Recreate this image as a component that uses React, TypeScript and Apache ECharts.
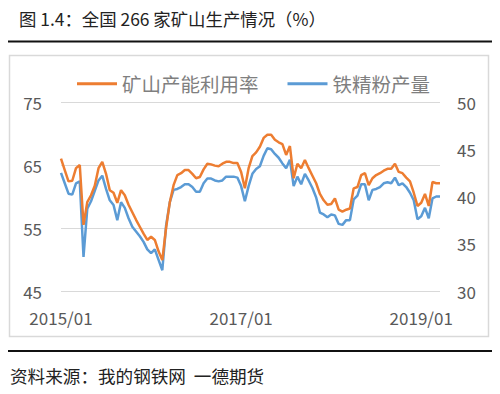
import React, { useEffect, useRef } from "react";
import * as echarts from "echarts";

// Semi-monthly periods, 2015/01 .. 2019/03
const START_YEAR = 2015;
const N_POINTS = 102;
const categories: string[] = [];
for (let i = 0; i < N_POINTS; i++) {
  const y = START_YEAR + Math.floor(i / 24);
  const m = Math.floor((i % 24) / 2) + 1;
  const mm = m < 10 ? "0" + m : "" + m;
  categories.push(i % 2 === 0 ? `${y}/${mm}` : `${y}/${mm}/16`);
}

// 矿山产能利用率 (left axis, %)
const capacityUtil = [
  66.0, 64.2, 62.4, 62.5, 64.5, 65.0, 55.5, 59.1, 60.2, 61.7,
  64.5, 65.5, 63.6, 61.0, 60.6, 59.0, 61.0, 60.2, 58.7, 57.5,
  56.3, 55.2, 54.1, 53.1, 53.6, 53.1, 51.3, 49.9, 55.0, 59.1,
  61.8, 63.4, 63.7, 64.2, 64.2, 63.6, 62.9, 63.1, 64.3, 65.2,
  65.1, 64.9, 64.8, 65.2, 65.5, 65.5, 65.3, 65.3, 63.9, 61.3,
  64.5, 66.4, 67.0, 67.9, 69.3, 69.8, 69.8, 69.0, 68.6, 68.3,
  66.6, 68.0, 62.9, 65.2, 64.5, 65.8, 64.5, 63.3, 62.1, 60.4,
  59.4, 58.7, 58.8, 59.7, 57.9, 57.6, 57.9, 58.1, 61.3, 61.5,
  63.4, 63.7, 61.8, 62.9, 63.4, 63.7, 64.1, 64.4, 64.4, 65.2,
  63.9, 63.7, 63.0, 62.4, 60.6, 58.5, 59.0, 60.4, 58.5, 62.3,
  62.1, 62.1,
];

// 铁精粉产量 (right axis)
const concentrateOutput = [
  42.5, 41.4, 40.3, 40.2, 41.4, 41.6, 33.6, 38.7, 39.5, 40.6,
  41.7, 42.2, 40.8, 39.6, 39.1, 37.5, 39.4, 38.8, 37.7, 36.8,
  36.3, 35.8, 35.2, 34.4, 34.0, 34.4, 33.3, 32.2, 36.9, 39.4,
  40.7, 40.8, 41.0, 41.3, 41.3, 41.0, 40.5, 40.5, 41.4, 41.9,
  41.9, 41.7, 41.6, 41.7, 42.1, 42.1, 42.1, 42.0, 41.1, 39.5,
  41.1, 42.4, 42.9, 43.2, 44.3, 45.1, 45.0, 44.5, 44.1, 43.5,
  43.0, 43.9, 41.1, 42.1, 41.3, 42.4, 41.7, 40.9, 39.9, 38.3,
  38.1, 37.8, 38.1, 38.0, 37.1, 37.0, 37.5, 37.5, 39.7, 40.1,
  41.3, 41.3, 39.6, 40.7, 40.8, 41.0, 41.4, 41.5, 41.4, 42.0,
  41.2, 41.4, 41.0, 40.4, 39.6, 37.6, 37.9, 38.8, 37.7, 39.8,
  40.0, 40.0,
];

const SERIES_NAMES = ["矿山产能利用率", "铁精粉产量"];
const LEFT_AXIS = { min: 45, max: 75, interval: 10 };
const RIGHT_AXIS = { min: 30, max: 50, interval: 5 };
const TITLE = "图 1.4：全国 266 家矿山生产情况（%）";
const SOURCE = "资料来源：我的钢铁网  一德期货";

const FONT = '"Noto Sans CJK SC", "Noto Sans", sans-serif';
const TEXT_GREY = "#595959";
const GRID_GREY = "#d9d9d9";

export default function App() {
  const ref = useRef<HTMLDivElement>(null);

  useEffect(() => {
    if (!ref.current) return;
    const chart = echarts.init(ref.current, null, { renderer: "svg" });
    chart.setOption({
      animation: false,
      backgroundColor: "#ffffff",
      textStyle: { fontFamily: FONT },
      grid: { left: 61, right: 60, top: 102, bottom: 103, containLabel: false },
      legend: {
        data: SERIES_NAMES,
        left: 77,
        top: 74,
        padding: 0,
        icon: "rect",
        itemWidth: 40,
        itemHeight: 3,
        itemGap: 29,
        textStyle: { fontSize: 19.5, color: "#7f7f7f", fontFamily: FONT },
      },
      xAxis: {
        type: "category",
        data: categories,
        boundaryGap: false,
        axisLine: { show: false },
        axisTick: { show: false },
        splitLine: { show: false },
        axisLabel: {
          interval: 47,
          fontSize: 17,
          color: TEXT_GREY,
          margin: 18,
          fontFamily: FONT,
        },
      },
      yAxis: [
        {
          type: "value",
          position: "left",
          min: LEFT_AXIS.min,
          max: LEFT_AXIS.max,
          interval: LEFT_AXIS.interval,
          axisLine: { show: false },
          axisTick: { show: false },
          splitLine: { show: true, lineStyle: { color: GRID_GREY, width: 1 } },
          axisLabel: { fontSize: 17, color: TEXT_GREY, margin: 19, fontFamily: FONT },
        },
        {
          type: "value",
          position: "right",
          min: RIGHT_AXIS.min,
          max: RIGHT_AXIS.max,
          interval: RIGHT_AXIS.interval,
          axisLine: { show: false },
          axisTick: { show: false },
          splitLine: { show: false },
          axisLabel: { fontSize: 17, color: TEXT_GREY, margin: 17, fontFamily: FONT },
        },
      ],
      series: [
        {
          name: SERIES_NAMES[0],
          type: "line",
          yAxisIndex: 0,
          data: capacityUtil,
          symbol: "none",
          lineStyle: { color: "#ED7D31", width: 2.5 },
          itemStyle: { color: "#ED7D31" },
          z: 3,
        },
        {
          name: SERIES_NAMES[1],
          type: "line",
          yAxisIndex: 1,
          data: concentrateOutput,
          symbol: "none",
          lineStyle: { color: "#5B9BD5", width: 2.5 },
          itemStyle: { color: "#5B9BD5" },
          z: 2,
        },
      ],
      graphic: [
        {
          type: "text",
          left: 19,
          top: 10,
          style: { text: TITLE, fontSize: 17.4, fill: "#222222", fontFamily: FONT },
        },
        {
          type: "line",
          shape: { x1: 8, y1: 41.5, x2: 492, y2: 41.5 },
          style: { stroke: "#111111", lineWidth: 2 },
        },
        {
          type: "rect",
          shape: { x: 9.5, y: 55.5, width: 479, height: 281 },
          style: { fill: "none", stroke: GRID_GREY, lineWidth: 1.5 },
          z: -1,
        },
        {
          type: "line",
          shape: { x1: 8, y1: 351, x2: 492, y2: 351 },
          style: { stroke: "#111111", lineWidth: 2 },
        },
        {
          type: "text",
          left: 10,
          top: 367,
          style: { text: SOURCE, fontSize: 17.6, fill: "#222222", fontFamily: FONT },
        },
      ],
    });
    return () => chart.dispose();
  }, []);

  return (
    <div
      style={{ position: "fixed", left: 0, top: 0, width: 500, height: 394, background: "#fff" }}
    >
      <div ref={ref} style={{ width: 500, height: 394 }} />
    </div>
  );
}
